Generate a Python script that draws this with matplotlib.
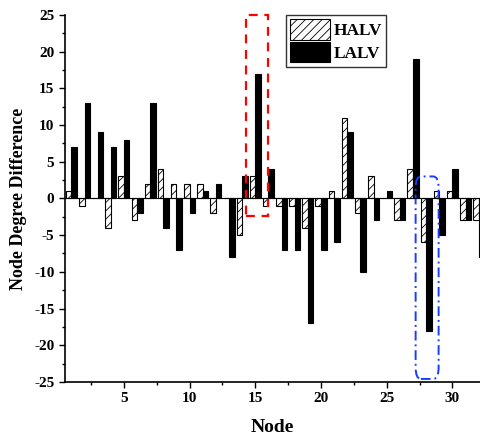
import numpy as np
import matplotlib.pyplot as plt
from matplotlib.patches import Rectangle, FancyBboxPatch

plt.rcParams['font.family'] = ['Liberation Serif', 'DejaVu Serif']
plt.rcParams['font.weight'] = 'bold'
plt.rcParams['hatch.linewidth'] = 0.6
plt.rcParams['axes.unicode_minus'] = False

nodes = np.arange(1, 33)
halv = [1, -1, 0, -4, 3, -3, 2, 4, 2, 2, 2, -2, 0, -5, 3, -1,
        -1, -1, -4, -1, 1, 11, -2, 3, 0, -3, 4, -6, 1, 1, -3, -3]
lalv = [7, 13, 9, 7, 8, -2, 13, -4, -7, -2, 1, 2, -8, 3, 17, 4,
        -7, -7, -17, -7, -6, 9, -10, -3, 1, -3, 19, -18, -5, 4, -3, -8]

fig = plt.figure(figsize=(4.8, 4.43), dpi=100)
ax = fig.add_axes([0.135, 0.138, 0.865, 0.828])

w = 0.42
ax.bar(nodes - w / 2, halv, width=w, color='white', edgecolor='black',
       hatch='////', linewidth=0.8, label='HALV')
ax.bar(nodes + w / 2, lalv, width=w, color='black', edgecolor='black',
       linewidth=0.8, label='LALV')
ax.axhline(0, color='black', linewidth=0.8)

# highlight boxes
ax.add_patch(Rectangle((14.3, -2.4), 1.7, 27.4, fill=False, edgecolor='red',
                       linestyle=(0, (4, 3)), linewidth=1.6, clip_on=False))
ax.add_patch(FancyBboxPatch((27.2, -24.6), 1.75, 27.6,
                            boxstyle='round,pad=0,rounding_size=0.4',
                            mutation_aspect=4, fill=False, edgecolor='#1a3cff',
                            linestyle=(0, (5, 2, 1, 2)), linewidth=1.4,
                            clip_on=False))

ax.set_xlim(0.5, 32.1)
ax.set_ylim(-25, 25)
ax.set_xticks([5, 10, 15, 20, 25, 30])
ax.set_xticks(np.arange(2.5, 32, 2.5), minor=True)
ax.set_yticks(np.arange(-25, 26, 5))
ax.set_yticks(np.arange(-25, 26, 2.5), minor=True)
ax.tick_params(which='major', direction='out', length=4, width=1, labelsize=11)
ax.tick_params(which='minor', direction='out', length=2.5, width=1)
for s in ['top', 'right']:
    ax.spines[s].set_visible(False)
for s in ['left', 'bottom']:
    ax.spines[s].set_linewidth(1.2)

ax.set_xlabel('Node', fontsize=14, fontweight='bold', labelpad=10)
ax.set_ylabel('Node Degree Difference', fontsize=13, fontweight='bold', labelpad=5)

leg = ax.legend(loc='upper left', bbox_to_anchor=(0.532, 1.0), fontsize=12.5,
                frameon=True, fancybox=False, edgecolor='black',
                handlelength=2.3, handleheight=1.45, borderpad=0.25,
                labelspacing=0.1, handletextpad=0.2, borderaxespad=0)
leg.get_frame().set_linewidth(1.0)

plt.savefig('out.png', dpi=100)
plt.close()
